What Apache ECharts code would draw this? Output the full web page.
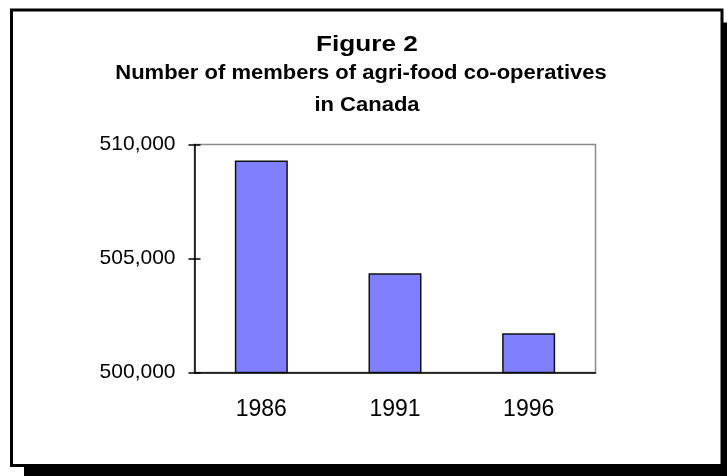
<!DOCTYPE html>
<html>
<head>
<meta charset="utf-8">
<script src="https://cdn.jsdelivr.net/npm/echarts@6/dist/echarts.min.js"></script>
<style>
  html, body { margin: 0; padding: 0; background: #fff; }
  #chart { width: 727px; height: 476px; }
</style>
</head>
<body>
<div id="chart"></div>
<script>
// Members of agri-food co-operatives, by census year
const years = ['1986', '1991', '1996'];
const members = [509300, 504350, 501720];

// Value axis range and ticks
const yMin = 500000;
const yMax = 510000;
const yStep = 5000;

// Heading lines
const titleText = 'Figure 2';
const subtitleLines = ['Number of members of agri-food co-operatives', 'in Canada'];

const FONT = '"Liberation Sans", Arial, Helvetica, sans-serif';

const chart = echarts.init(document.getElementById('chart'), null, { renderer: 'canvas' });

const fmt = v => v.toLocaleString('en-US');

chart.setOption({
  backgroundColor: '#ffffff',
  animation: false,
  graphic: [
    // drop shadow behind the framed panel
    {
      type: 'rect', z: -20,
      shape: { x: 24, y: 22.5, width: 760, height: 500 },
      style: { fill: '#000' }
    },
    // framed white panel
    {
      type: 'rect', z: -10,
      shape: { x: 11.5, y: 10, width: 710.5, height: 455.5 },
      style: { fill: '#fff', stroke: '#000', lineWidth: 3 }
    },
    {
      type: 'text', z: 10, x: 367, y: 44.5, scaleX: 1.19,
      style: {
        text: titleText, x: 0, y: 0, align: 'center', verticalAlign: 'middle',
        font: 'bold 22px ' + FONT, fill: '#000'
      }
    },
    {
      type: 'text', z: 10, x: 361, y: 73.5, scaleX: 1.1,
      style: {
        text: subtitleLines[0], x: 0, y: 0, align: 'center', verticalAlign: 'middle',
        font: 'bold 20px ' + FONT, fill: '#000'
      }
    },
    {
      type: 'text', z: 10, x: 367, y: 105, scaleX: 1.1,
      style: {
        text: subtitleLines[1], x: 0, y: 0, align: 'center', verticalAlign: 'middle',
        font: 'bold 20px ' + FONT, fill: '#000'
      }
    }
  ],
  grid: {
    left: 194.5, top: 144.5, width: 401, height: 228,
    show: true, backgroundColor: '#fff', borderColor: '#8c8c8c', borderWidth: 1.5,
    containLabel: false
  },
  xAxis: {
    type: 'category',
    data: years,
    axisLine: { show: true, lineStyle: { color: '#000', width: 1.5 } },
    axisTick: { show: false },
    axisLabel: { color: '#000', fontFamily: FONT, fontSize: 23, margin: 26 },
    splitLine: { show: false }
  },
  yAxis: [
    {
      type: 'value', min: yMin, max: yMax, interval: yStep,
      axisLine: { show: true, lineStyle: { color: '#000', width: 1.5 } },
      axisTick: { show: true, length: 6, lineStyle: { color: '#000', width: 1.5 } },
      axisLabel: { color: '#000', fontFamily: FONT, fontSize: 21, margin: 19, formatter: fmt },
      splitLine: { show: false }
    },
    {
      // inner half of the crossing tick marks
      type: 'value', position: 'left', min: yMin, max: yMax, interval: yStep,
      axisLine: { show: false },
      axisTick: { show: true, inside: true, length: 6, lineStyle: { color: '#000', width: 1.5 } },
      axisLabel: { show: false },
      splitLine: { show: false }
    }
  ],
  series: [{
    type: 'bar',
    data: members,
    yAxisIndex: 0,
    barWidth: 53,
    itemStyle: { color: '#8080ff', borderColor: '#111', borderWidth: 1.5 }
  }]
});
</script>
</body>
</html>
